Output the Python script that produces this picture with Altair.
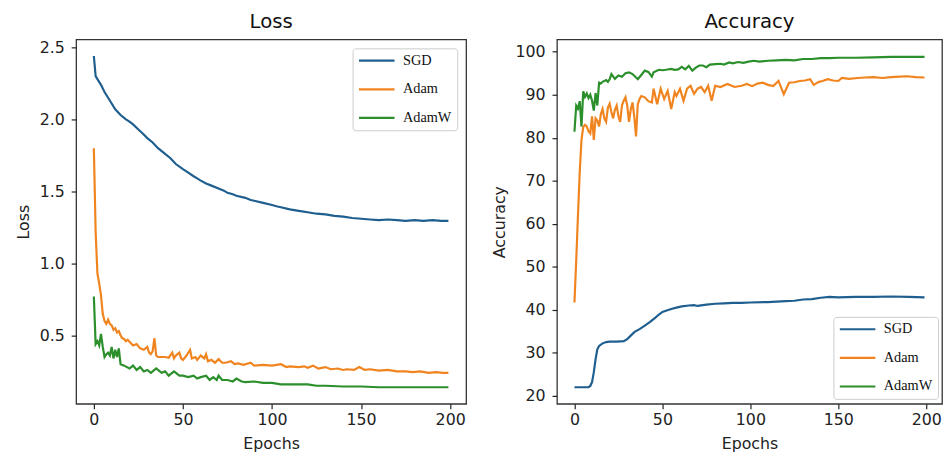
import altair as alt
import pandas as pd

SERIES = ["SGD", "Adam", "AdamW"]
COLORS = ["#1f5f8f", "#f0841f", "#2b8f2b"]

# ---------------- Loss panel ----------------
sgd_loss_ep = [0, 1, 2, 4, 6, 8, 10, 12, 15, 18,
               20, 22, 25, 28, 30, 33, 36, 40, 43, 46,
               50, 53, 56, 58, 60, 63, 66, 70, 73, 75,
               78, 80, 85, 88, 90, 95, 100, 103, 105, 110,
               115, 120, 125, 130, 135, 140, 145, 150, 155, 160,
               165, 170, 175, 180, 185, 190, 195, 199]
sgd_loss = [2.44, 2.30, 2.28, 2.24, 2.19, 2.15, 2.11, 2.07, 2.03, 2.00,
            1.985, 1.965, 1.93, 1.895, 1.87, 1.84, 1.80, 1.76, 1.73, 1.69,
            1.655, 1.63, 1.605, 1.59, 1.575, 1.555, 1.54, 1.52, 1.505, 1.49,
            1.48, 1.47, 1.455, 1.44, 1.435, 1.42, 1.405, 1.395, 1.39, 1.375,
            1.365, 1.355, 1.345, 1.34, 1.33, 1.325, 1.315, 1.31, 1.305, 1.30,
            1.305, 1.30, 1.295, 1.30, 1.295, 1.30, 1.295, 1.295]

adam_loss_ep = [0, 1, 2, 3, 4, 5, 6, 7, 8, 9,
                10, 11, 12, 13, 14, 15, 16, 17, 18, 19,
                20, 22, 24, 26, 28, 30, 31, 32, 33, 34,
                35, 36, 38, 40, 42, 44, 45, 46, 48, 49,
                50, 52, 54, 55, 57, 58, 60, 62, 63, 64,
                66, 68, 70, 72, 74, 77, 79, 81, 84, 88,
                90, 95, 100, 105, 108, 110, 115, 118, 120, 123,
                126, 130, 133, 137, 140, 142, 146, 149, 152, 155,
                160, 165, 170, 175, 179, 183, 188, 192, 196, 199]
adam_loss = [1.80, 1.22, 0.93, 0.86, 0.78, 0.65, 0.60, 0.58, 0.61, 0.58,
             0.57, 0.54, 0.55, 0.52, 0.53, 0.50, 0.48, 0.475, 0.46, 0.47,
             0.455, 0.43, 0.44, 0.41, 0.40, 0.42, 0.38, 0.37, 0.39, 0.48,
             0.36, 0.35, 0.35, 0.35, 0.345, 0.38, 0.34, 0.36, 0.38, 0.34,
             0.33, 0.36, 0.40, 0.34, 0.35, 0.33, 0.36, 0.34, 0.37, 0.32,
             0.33, 0.31, 0.335, 0.31, 0.31, 0.32, 0.30, 0.305, 0.295, 0.31,
             0.29, 0.295, 0.29, 0.30, 0.28, 0.285, 0.28, 0.285, 0.275, 0.29,
             0.27, 0.28, 0.265, 0.27, 0.26, 0.265, 0.26, 0.28, 0.26, 0.265,
             0.255, 0.26, 0.25, 0.25, 0.245, 0.25, 0.24, 0.245, 0.24, 0.24]

adamw_loss_ep = [0, 1, 2, 3, 4, 5, 6, 7, 8, 9,
                 10, 11, 12, 13, 14, 15, 17, 20, 22, 24,
                 26, 28, 30, 32, 35, 38, 40, 42, 45, 48,
                 50, 53, 56, 58, 60, 63, 65, 67, 69, 70,
                 72, 75, 78, 80, 83, 85, 90, 95, 100, 105,
                 110, 115, 120, 125, 130, 140, 150, 160, 170, 180,
                 190, 199]
adamw_loss = [0.77, 0.44, 0.46, 0.43, 0.51, 0.42, 0.35, 0.37, 0.38, 0.36,
              0.42, 0.34, 0.40, 0.35, 0.41, 0.30, 0.29, 0.27, 0.29, 0.26,
              0.28, 0.25, 0.26, 0.24, 0.27, 0.24, 0.25, 0.22, 0.25, 0.22,
              0.22, 0.21, 0.22, 0.20, 0.21, 0.22, 0.19, 0.21, 0.19, 0.22,
              0.19, 0.19, 0.18, 0.20, 0.18, 0.175, 0.18, 0.17, 0.17, 0.16,
              0.16, 0.16, 0.16, 0.15, 0.15, 0.145, 0.145, 0.14, 0.14, 0.14,
              0.14, 0.14]

# ---------------- Accuracy panel ----------------
sgd_acc_ep = [0, 4, 8, 9, 10, 11, 12, 13, 14, 16,
              18, 20, 24, 28, 30, 32, 34, 37, 40, 43,
              46, 48, 50, 52, 55, 58, 61, 65, 68, 70,
              75, 80, 85, 90, 95, 100, 110, 120, 125, 130,
              135, 140, 145, 150, 160, 170, 180, 190, 199]
sgd_acc = [22.0, 22.0, 22.0, 22.3, 23.2, 25.5, 28.5, 30.8, 31.6, 32.2,
           32.5, 32.6, 32.6, 32.7, 33.2, 34.0, 34.8, 35.5, 36.3, 37.2,
           38.2, 38.9, 39.5, 39.8, 40.2, 40.5, 40.8, 41.0, 41.1, 40.9,
           41.2, 41.4, 41.5, 41.6, 41.6, 41.7, 41.8, 42.0, 42.1, 42.4,
           42.5, 42.8, 43.0, 42.9, 43.0, 43.0, 43.1, 43.0, 42.9]

adam_acc_ep = [0, 1, 2, 3, 4, 5, 6, 7, 8, 9,
               10, 11, 12, 13, 14, 15, 16, 17, 18, 19,
               20, 21, 22, 23, 24, 25, 26, 27, 28, 29,
               30, 31, 32, 33, 34, 35, 36, 37, 38, 40,
               42, 44, 45, 47, 49, 51, 53, 55, 57, 58,
               60, 62, 64, 66, 68, 70, 72, 74, 76, 78,
               80, 83, 87, 91, 95, 98, 101, 104, 107, 110,
               113, 116, 119, 122, 125, 128, 131, 134, 136, 139,
               141, 144, 147, 150, 152, 156, 161, 165, 170, 175,
               180, 185, 189, 194, 199]
adam_acc = [41.7, 51.5, 62.0, 72.0, 79.5, 82.5, 83.0, 82.6, 81.5, 81.0,
            85.0, 79.5, 84.5, 84.0, 82.6, 85.5, 86.7, 84.5, 83.7, 87.0,
            87.9, 86.0, 84.5, 86.5, 87.5, 85.0, 83.7, 87.5, 88.6, 89.4,
            87.5, 83.7, 86.5, 88.2, 85.0, 80.3, 87.8, 89.0, 89.7, 89.4,
            88.5, 88.2, 91.4, 87.8, 91.4, 89.0, 90.9, 86.7, 90.6, 89.7,
            91.4, 88.6, 91.4, 92.1, 90.2, 91.4, 91.8, 90.6, 92.1, 88.6,
            92.1, 91.8, 92.5, 91.8, 92.1, 92.5, 92.0, 92.6, 92.8, 92.3,
            92.0, 93.2, 90.1, 92.8, 92.9, 93.2, 93.3, 93.6, 92.3, 93.0,
            93.2, 93.6, 93.3, 93.2, 93.9, 93.7, 93.9, 94.0, 94.1, 93.9,
            94.1, 94.2, 94.3, 94.1, 94.0]

adamw_acc_ep = [0, 1, 2, 3, 4, 5, 6, 7, 8, 9,
                10, 11, 12, 13, 14, 15, 16, 18, 19, 20,
                21, 23, 25, 27, 29, 31, 33, 35, 36, 38,
                40, 42, 44, 45, 48, 50, 52, 55, 57, 59,
                61, 63, 65, 67, 69, 71, 73, 75, 77, 80,
                83, 85, 88, 90, 93, 96, 99, 102, 105, 110,
                115, 120, 125, 130, 135, 140, 145, 150, 160, 170,
                180, 190, 199]
adamw_acc = [81.4, 87.5, 86.8, 88.5, 82.6, 90.8, 89.5, 90.3, 89.2, 90.0,
             88.6, 86.3, 90.4, 87.5, 92.8, 92.6, 93.0, 93.4, 93.0, 93.6,
             94.8, 93.7, 94.5, 94.2, 95.0, 95.2, 94.8, 94.0, 93.6, 94.6,
             95.6, 95.3, 94.2, 95.2, 95.8, 95.7, 95.8, 96.0, 95.8, 95.9,
             96.5, 95.9, 96.7, 95.6, 96.3, 96.8, 96.8, 96.4, 97.0, 97.1,
             97.2, 97.0, 97.5, 97.3, 97.6, 97.4, 97.7, 97.9, 97.7, 97.9,
             98.0, 98.1, 98.0, 98.3, 98.3, 98.5, 98.5, 98.6, 98.6, 98.7,
             98.8, 98.8, 98.8]

X_TICKS = [0, 50, 100, 150, 200]
LOSS_TICKS = [0.5, 1.0, 1.5, 2.0, 2.5]
ACC_TICKS = [20, 30, 40, 50, 60, 70, 80, 90, 100]


def frame(parts):
    rows = []
    for name, ep, val in parts:
        assert len(ep) == len(val), (name, len(ep), len(val))
        for e, v in zip(ep, val):
            rows.append({"Optimizer": name, "Epoch": e, "Value": v})
    return pd.DataFrame(rows)


loss_df = frame([("SGD", sgd_loss_ep, sgd_loss),
                 ("Adam", adam_loss_ep, adam_loss),
                 ("AdamW", adamw_loss_ep, adamw_loss)])
acc_df = frame([("SGD", sgd_acc_ep, sgd_acc),
                ("Adam", adam_acc_ep, adam_acc),
                ("AdamW", adamw_acc_ep, adamw_acc)])

FONT = "DejaVu Sans"


def panel(df, title, ytitle, ydomain, yticks, yfmt, width, legend_y):
    return alt.Chart(
        df,
        title=alt.Title(title, fontSize=20, font=FONT, fontWeight="normal",
                        color="#111111", anchor="middle", offset=8),
    ).mark_line(strokeWidth=2.2, clip=True).encode(
        x=alt.X("Epoch:Q",
                scale=alt.Scale(domain=[-9.95, 208.95], nice=False, zero=False),
                axis=alt.Axis(values=X_TICKS, format="d", title="Epochs",
                              labelPadding=3, titlePadding=8)),
        y=alt.Y("Value:Q",
                scale=alt.Scale(domain=ydomain, nice=False, zero=False),
                axis=alt.Axis(values=yticks, format=yfmt, title=ytitle,
                              labelPadding=7, titlePadding=8)),
        color=alt.Color(
            "Optimizer:N",
            scale=alt.Scale(domain=SERIES, range=COLORS),
            legend=alt.Legend(
                title=None, orient="none", legendX=280, legendY=legend_y,
                symbolType="stroke", symbolSize=1296, symbolStrokeWidth=2.2,
                clipHeight=15, rowPadding=13, labelOffset=7,
                labelFont="Liberation Serif", labelFontSize=14.5,
                labelColor="#111111", padding=5, strokeColor="#cccccc",
                fillColor="white", cornerRadius=3),
        ),
    ).properties(width=width, height=369)


left = panel(loss_df, "Loss", "Loss", [0.025, 2.555], LOSS_TICKS, ".1f", 395, 9)
right = panel(acc_df, "Accuracy", "Accuracy", [18.15, 102.85], ACC_TICKS, "d", 390, 281)

chart = alt.hconcat(left, right, spacing=23).resolve_scale(color="independent").properties(
    padding={"left": 6, "top": 0, "right": 0, "bottom": 0}
).configure_view(
    stroke="#333333", strokeWidth=1.3
).configure_axis(
    grid=False, domain=False, tickSize=5, tickColor="#222222", tickWidth=1.2,
    labelFont=FONT, labelFontSize=16, labelColor="#222222",
    titleFont=FONT, titleFontSize=16, titleFontWeight="normal", titleColor="#222222",
)

chart.save("out.html", embed_options={"renderer": "svg", "actions": False})
